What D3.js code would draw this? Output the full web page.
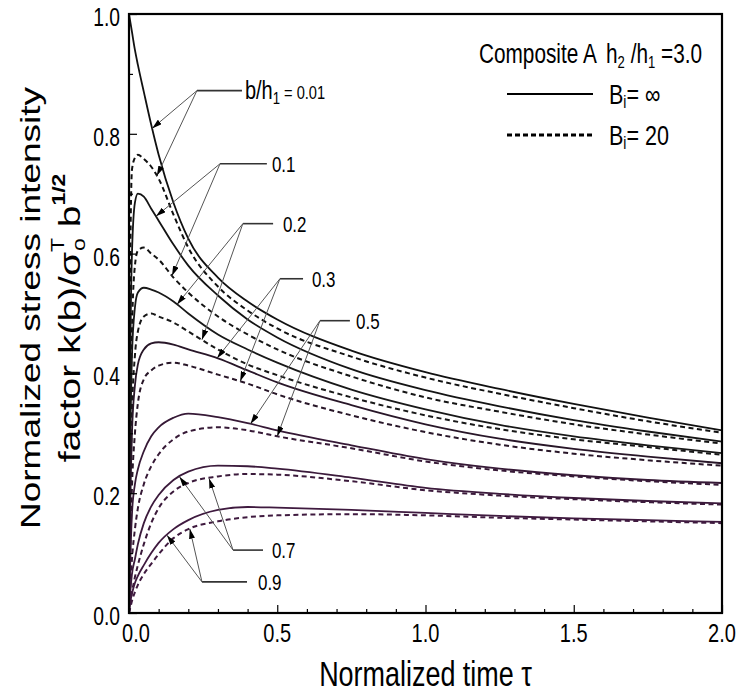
<!DOCTYPE html>
<html>
<head>
<meta charset="utf-8">
<script src="https://cdn.jsdelivr.net/npm/d3@7"></script>
<style>
  html, body { margin: 0; padding: 0; background: #fff; }
  svg { display: block; font-family: "Liberation Sans", Arial, sans-serif; }
</style>
</head>
<body>
<svg id="chart" width="742" height="695"></svg>
<script>
// normalized time samples (shared by every curve)
const tau = [0, 0.005, 0.01, 0.02, 0.03, 0.05, 0.075, 0.1, 0.15, 0.2, 0.3, 0.4, 0.5, 0.75, 1.0, 1.25, 1.5, 1.75, 2.0];

// b/h1 ratios
const ratios = ["0.01", "0.1", "0.2", "0.3", "0.5", "0.7", "0.9"];

// Bi = infinity (solid)
const solid001 = [1.0, 0.985, 0.97, 0.94, 0.915, 0.87, 0.815, 0.765, 0.685, 0.625, 0.56, 0.52, 0.49, 0.438, 0.402, 0.374, 0.349, 0.326, 0.305];
const solid01  = [0, 0.45, 0.6, 0.685, 0.70, 0.695, 0.675, 0.655, 0.615, 0.58, 0.53, 0.49, 0.46, 0.407, 0.372, 0.345, 0.322, 0.303, 0.286];
const solid02  = [0, 0.3, 0.43, 0.51, 0.535, 0.543, 0.54, 0.535, 0.52, 0.50, 0.465, 0.44, 0.418, 0.373, 0.34, 0.314, 0.295, 0.28, 0.267];
const solid03  = [0, 0.2, 0.3, 0.38, 0.415, 0.44, 0.45, 0.452, 0.448, 0.44, 0.425, 0.405, 0.385, 0.347, 0.315, 0.291, 0.274, 0.261, 0.25];
const solid05  = [0, 0.1, 0.165, 0.215, 0.24, 0.27, 0.295, 0.31, 0.326, 0.333, 0.327, 0.317, 0.305, 0.28, 0.257, 0.241, 0.23, 0.222, 0.217];
const solid07  = [0, 0.04, 0.065, 0.09, 0.115, 0.15, 0.178, 0.197, 0.222, 0.236, 0.246, 0.245, 0.241, 0.226, 0.209, 0.199, 0.192, 0.187, 0.183];
const solid09  = [0, 0.02, 0.032, 0.05, 0.062, 0.08, 0.1, 0.117, 0.14, 0.155, 0.172, 0.177, 0.176, 0.172, 0.167, 0.162, 0.158, 0.155, 0.152];

// Bi = 20 (dashed)
const dashed001 = [0, 0.62, 0.74, 0.76, 0.765, 0.758, 0.745, 0.725, 0.665, 0.61, 0.545, 0.505, 0.475, 0.428, 0.393, 0.366, 0.342, 0.32, 0.301];
const dashed01  = [0, 0.3, 0.47, 0.58, 0.605, 0.61, 0.60, 0.59, 0.56, 0.535, 0.495, 0.465, 0.44, 0.395, 0.36, 0.336, 0.315, 0.298, 0.283];
const dashed02  = [0, 0.2, 0.33, 0.43, 0.47, 0.495, 0.50, 0.495, 0.485, 0.47, 0.44, 0.415, 0.397, 0.36, 0.33, 0.307, 0.29, 0.277, 0.264];
const dashed03  = [0, 0.12, 0.21, 0.3, 0.35, 0.39, 0.405, 0.413, 0.418, 0.413, 0.398, 0.383, 0.365, 0.33, 0.302, 0.281, 0.266, 0.255, 0.246];
const dashed05  = [0, 0.05, 0.09, 0.14, 0.175, 0.215, 0.245, 0.265, 0.29, 0.303, 0.31, 0.305, 0.295, 0.275, 0.253, 0.238, 0.228, 0.22, 0.214];
const dashed07  = [0, 0.02, 0.035, 0.06, 0.08, 0.115, 0.15, 0.175, 0.203, 0.217, 0.228, 0.232, 0.231, 0.22, 0.205, 0.196, 0.19, 0.185, 0.181];
const dashed09  = [0, 0.01, 0.02, 0.035, 0.047, 0.065, 0.082, 0.098, 0.125, 0.14, 0.153, 0.16, 0.163, 0.165, 0.163, 0.159, 0.156, 0.153, 0.15];

const solidSeries  = [solid001, solid01, solid02, solid03, solid05, solid07, solid09];
const dashedSeries = [dashed001, dashed01, dashed02, dashed03, dashed05, dashed07, dashed09];

// axis ticks
const xTicks = [0, 0.5, 1.0, 1.5, 2.0];
const yTicks = [0, 0.2, 0.4, 0.6, 0.8, 1.0];

// annotations (data units): corner of the leader, end of the leader bar, text start, arrow targets (tau on solid / dashed)
const annotations = [
    { label: "0.01", corner: [0.229, 0.872], bar: 0.381, textX: 0.391, tips: [0.078, 0.094] },
    { label: "0.1",  corner: [0.307, 0.750], bar: 0.465, textX: 0.482, tips: [0.091, 0.145] },
    { label: "0.2",  corner: [0.384, 0.650], bar: 0.486, textX: 0.519, tips: [0.162, 0.246] },
    { label: "0.3",  corner: [0.509, 0.558], bar: 0.587, textX: 0.617, tips: [0.297, 0.375] },
    { label: "0.5",  corner: [0.644, 0.488], bar: 0.745, textX: 0.766, tips: [0.41, 0.50] },
    { label: "0.7",  corner: [0.351, 0.105], bar: 0.452, textX: 0.482, tips: [0.17, 0.27] },
    { label: "0.9",  corner: [0.246, 0.052], bar: 0.398, textX: 0.435, tips: [0.128, 0.205] }
];

// ---------------------------------------------------------------
const options = {
    width: 742,
    height: 695,
    margin: { top: 14, right: 20, bottom: 82, left: 129 },
    squeeze: 0.77,           // the original figure is horizontally compressed
    colors: ["#111", "#141414", "#181818", "#281628", "#361936", "#3b1a3b", "#3f1a3f"]
};

const svg = d3.select("#chart");
const plotW = options.width - options.margin.left - options.margin.right;
const plotH = options.height - options.margin.top - options.margin.bottom;

const x = d3.scaleLinear().domain([0, 2]).range([options.margin.left, options.margin.left + plotW]);
const y = d3.scaleLinear().domain([0, 1]).range([options.margin.top + plotH, options.margin.top]);

const sq = options.squeeze;

// text helper: squeezed horizontally around its anchor point
function squeezedText(parent, px, py, size, anchor, rotate) {
    return parent.append("text")
        .attr("transform", `translate(${px},${py}) scale(${sq},1)` + (rotate ? ` rotate(${rotate})` : ""))
        .attr("text-anchor", anchor)
        .attr("font-size", size)
        .attr("fill", "#000");
}

// arrow marker
svg.append("defs").append("marker")
    .attr("id", "arrow")
    .attr("viewBox", "0 0 10 6")
    .attr("refX", 10)
    .attr("refY", 3)
    .attr("markerWidth", 10)
    .attr("markerHeight", 6)
    .attr("markerUnits", "userSpaceOnUse")
    .attr("orient", "auto")
    .append("path")
    .attr("d", "M0,0 L10,3 L0,6 Z")
    .attr("fill", "#000");

// curves
const line = d3.line()
    .x((d, i) => x(tau[i]))
    .y(d => y(d))
    .curve(d3.curveMonotoneX);

const curves = svg.append("g");

dashedSeries.forEach((s, i) => {
    curves.append("path")
        .attr("d", line(s))
        .attr("fill", "none")
        .attr("stroke", options.colors[i])
        .attr("stroke-width", 2)
        .attr("stroke-dasharray", "5,3.5");
});

solidSeries.forEach((s, i) => {
    curves.append("path")
        .attr("d", line(s))
        .attr("fill", "none")
        .attr("stroke", options.colors[i])
        .attr("stroke-width", 1.8);
});

// frame
svg.append("rect")
    .attr("x", x(0))
    .attr("y", y(1))
    .attr("width", x(2) - x(0))
    .attr("height", y(0) - y(1))
    .attr("fill", "none")
    .attr("stroke", "#000")
    .attr("stroke-width", 2.2);

// axes (ticks pointing inward)
const xAxis = svg.append("g")
    .attr("transform", `translate(0,${y(0)})`)
    .call(d3.axisBottom(x).tickValues(d3.range(0, 2.01, 0.1)).tickSize(-4).tickFormat(""));
xAxis.selectAll(".tick line").filter(d => xTicks.some(t => Math.abs(t - d) < 1e-6)).attr("y2", -8);
xAxis.select(".domain").remove();

const yAxis = svg.append("g")
    .attr("transform", `translate(${x(0)},0)`)
    .call(d3.axisLeft(y).tickValues(d3.range(0, 1.01, 0.1)).tickSize(-4).tickFormat(""));
yAxis.selectAll(".tick line").filter(d => yTicks.some(t => Math.abs(t - d) < 1e-6)).attr("x2", 8);
yAxis.select(".domain").remove();
svg.selectAll(".tick line").attr("stroke", "#000").attr("stroke-width", 1.2);

// tick labels
xTicks.forEach(t => {
    squeezedText(svg, x(t) + (t === 0 ? 7 : 0), y(0) + 29, 26, "middle").text(t.toFixed(1));
});
yTicks.forEach(t => {
    squeezedText(svg, x(0) - 9, y(t) + 12, 25, "end").text(t.toFixed(1));
});

// axis titles
squeezedText(svg, x(1), 686, 35, "middle").text("Normalized time \u03c4");

squeezedText(svg, 40, 308, 37, "middle", -90).text("Normalized stress intensity");

const yt2 = squeezedText(svg, 80, 318, 39, "middle", -90);
yt2.append("tspan").text("factor k(b)/\u03c3");
yt2.append("tspan").attr("font-size", 23).attr("dy", -21).text("T");
yt2.append("tspan").attr("font-size", 23).attr("dx", -13).attr("dy", 27).text("o");
yt2.append("tspan").attr("dy", -6).text(" b");
yt2.append("tspan").attr("font-size", 23).attr("font-weight", "bold").attr("dy", -19).text("1/2");

// annotations
const interp = (series, t) => {
    const i = d3.bisectRight(tau, t) - 1;
    const f = (t - tau[i]) / (tau[i + 1] - tau[i]);
    return series[i] + f * (series[i + 1] - series[i]);
};

const ann = svg.append("g");
annotations.forEach((a, i) => {
    const cx = x(a.corner[0]), cy = y(a.corner[1]);
    ann.append("line")
        .attr("x1", cx).attr("y1", cy)
        .attr("x2", x(a.bar)).attr("y2", cy)
        .attr("stroke", "#333").attr("stroke-width", 1.6);
    [solidSeries[i], dashedSeries[i]].forEach((s, k) => {
        const t = a.tips[k];
        ann.append("line")
            .attr("x1", cx).attr("y1", cy)
            .attr("x2", x(t)).attr("y2", y(interp(s, t)))
            .attr("stroke", "#555").attr("stroke-width", 1)
            .attr("marker-end", "url(#arrow)");
    });
    if (i === 0) {
        const tx = squeezedText(ann, x(a.textX), cy + 8, 26, "start");
        tx.append("tspan").text("b/h");
        tx.append("tspan").attr("font-size", 17).attr("dy", 5).text("1");
        tx.append("tspan").attr("font-size", 19).attr("dy", -5).text(" = " + a.label);
    } else {
        squeezedText(ann, x(a.textX), cy + 8, 22, "start").text(a.label);
    }
});

// legend
const legend = svg.append("g");
const lt = squeezedText(legend, 479, 63, 27, "start");
lt.append("tspan").text("Composite A");
lt.append("tspan").attr("dx", 12).text("h");
lt.append("tspan").attr("font-size", 17).attr("dy", 5).text("2");
lt.append("tspan").attr("dy", -5).text(" /h");
lt.append("tspan").attr("font-size", 17).attr("dy", 5).text("1");
lt.append("tspan").attr("dy", -5).text(" =3.0");

[["\u221e", null], ["20", "5,3"]].forEach(([val, dash], k) => {
    const ly = 94 + k * 41;
    legend.append("line")
        .attr("x1", 507).attr("x2", 593)
        .attr("y1", ly).attr("y2", ly)
        .attr("stroke", "#000")
        .attr("stroke-width", dash ? 3 : 2.2)
        .attr("stroke-dasharray", dash);
    const t = squeezedText(legend, 609, ly + 10, 28, "start");
    t.append("tspan").text("B");
    t.append("tspan").attr("font-size", 18).attr("dy", 4).text("i");
    t.append("tspan").attr("dy", -4).text("= " + val);
});
</script>
</body>
</html>
